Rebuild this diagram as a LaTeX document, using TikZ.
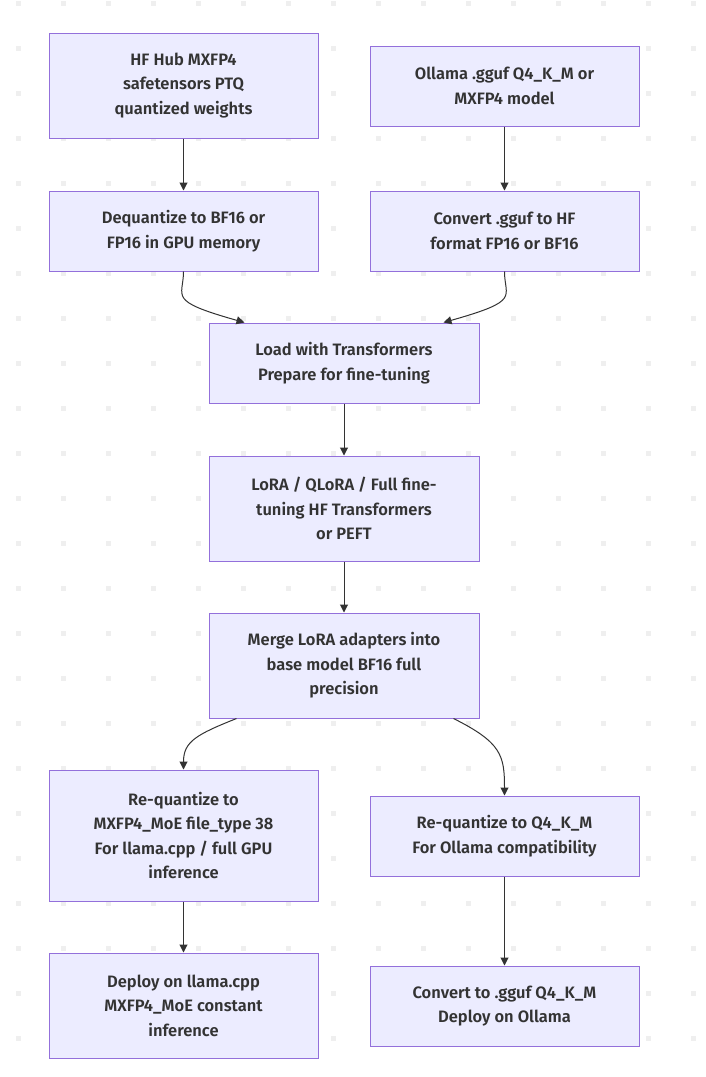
\documentclass[tikz,border=0pt]{standalone}
\usepackage{fontspec}
\setmainfont{Fira Sans}[UprightFont={* SemiBold}]
\usetikzlibrary{arrows.meta}
\definecolor{boxfill}{HTML}{ECECFF}
\definecolor{boxline}{HTML}{9370DB}
\definecolor{ink}{HTML}{333333}
\definecolor{dotc}{HTML}{EFEFEF}
\begin{document}
\begin{tikzpicture}[x=1pt,y=-1pt,
  stepbox/.style={draw=boxline,fill=boxfill,line width=1pt,minimum width=269pt,
    inner sep=0pt,align=center,text=ink,font=\fontsize{16.5}{24.5}\selectfont},
  h80/.style={minimum height=80pt},
  h105/.style={minimum height=105pt},
  h131/.style={minimum height=131pt},
  flow/.style={draw=ink,line width=1pt,-{Triangle[length=8pt,width=8pt]}}]
\useasboundingbox (0,0) rectangle (705,1077);
\fill[white] (0,0) rectangle (705,1077);
\foreach \i in {0,...,15}{\foreach \j in {0,...,23}{
  \fill[dotc] (16+45*\i,1+45*\j) rectangle +(5,5);}}
\node[stepbox,h105] (n1) at (183.5,85.5) {HF Hub MXFP4\\safetensors PTQ\\quantized weights};
\node[stepbox,h80] (n2) at (504.5,86) {Ollama .gguf Q4\_K\_M or\\MXFP4 model};
\node[stepbox,h80] (n3) at (183.5,231) {Dequantize to BF16 or\\FP16 in GPU memory};
\node[stepbox,h80] (n4) at (504.5,231) {Convert .gguf to HF\\format FP16 or BF16};
\node[stepbox,h80,minimum width=270pt] (n5) at (344,363) {Load with Transformers\\Prepare for fine-tuning};
\node[stepbox,h105,minimum width=270pt] (n6) at (344,508.5) {LoRA / QLoRA / Full fine-\\tuning HF Transformers\\or PEFT};
\node[stepbox,h105,minimum width=270pt] (n7) at (344,665.5) {Merge LoRA adapters into\\base model BF16 full\\precision};
\node[stepbox,h131] (n8) at (183.5,835.5) {Re-quantize to\\MXFP4\_MoE file\_type 38\\For llama.cpp / full GPU\\inference};
\node[stepbox,h80] (n9) at (504.5,836) {Re-quantize to Q4\_K\_M\\For Ollama compatibility};
\node[stepbox,h105] (n10) at (183.5,1005.5) {Deploy on llama.cpp\\MXFP4\_MoE constant\\inference};
\node[stepbox,h80] (n11) at (504.5,1006) {Convert to .gguf Q4\_K\_M\\Deploy on Ollama};
\draw[flow] (n1.south) -- (n3.north);
\draw[flow] (n2.south) -- (n4.north);
\draw[flow] (n3.south) .. controls ([yshift=-26]n3.south) and ([shift={(-42,-22)}]n5.north west) .. ([xshift=36]n5.north west);
\draw[flow] (n4.south) .. controls ([yshift=-26]n4.south) and ([shift={(42,-22)}]n5.north east) .. ([xshift=-36]n5.north east);
\draw[flow] (n5.south) -- (n6.north);
\draw[flow] (n6.south) -- (n7.north);
\draw[flow] ([xshift=28]n7.south west) .. controls ([shift={(-12,16)}]n7.south west) and ([yshift=28]n8.north) .. (n8.north);
\draw[flow] ([xshift=-26]n7.south east) .. controls ([shift={(22,24)}]n7.south east) and ([yshift=40]n9.north) .. (n9.north);
\draw[flow] (n8.south) -- (n10.north);
\draw[flow] (n9.south) -- (n11.north);
\end{tikzpicture}
\end{document}
